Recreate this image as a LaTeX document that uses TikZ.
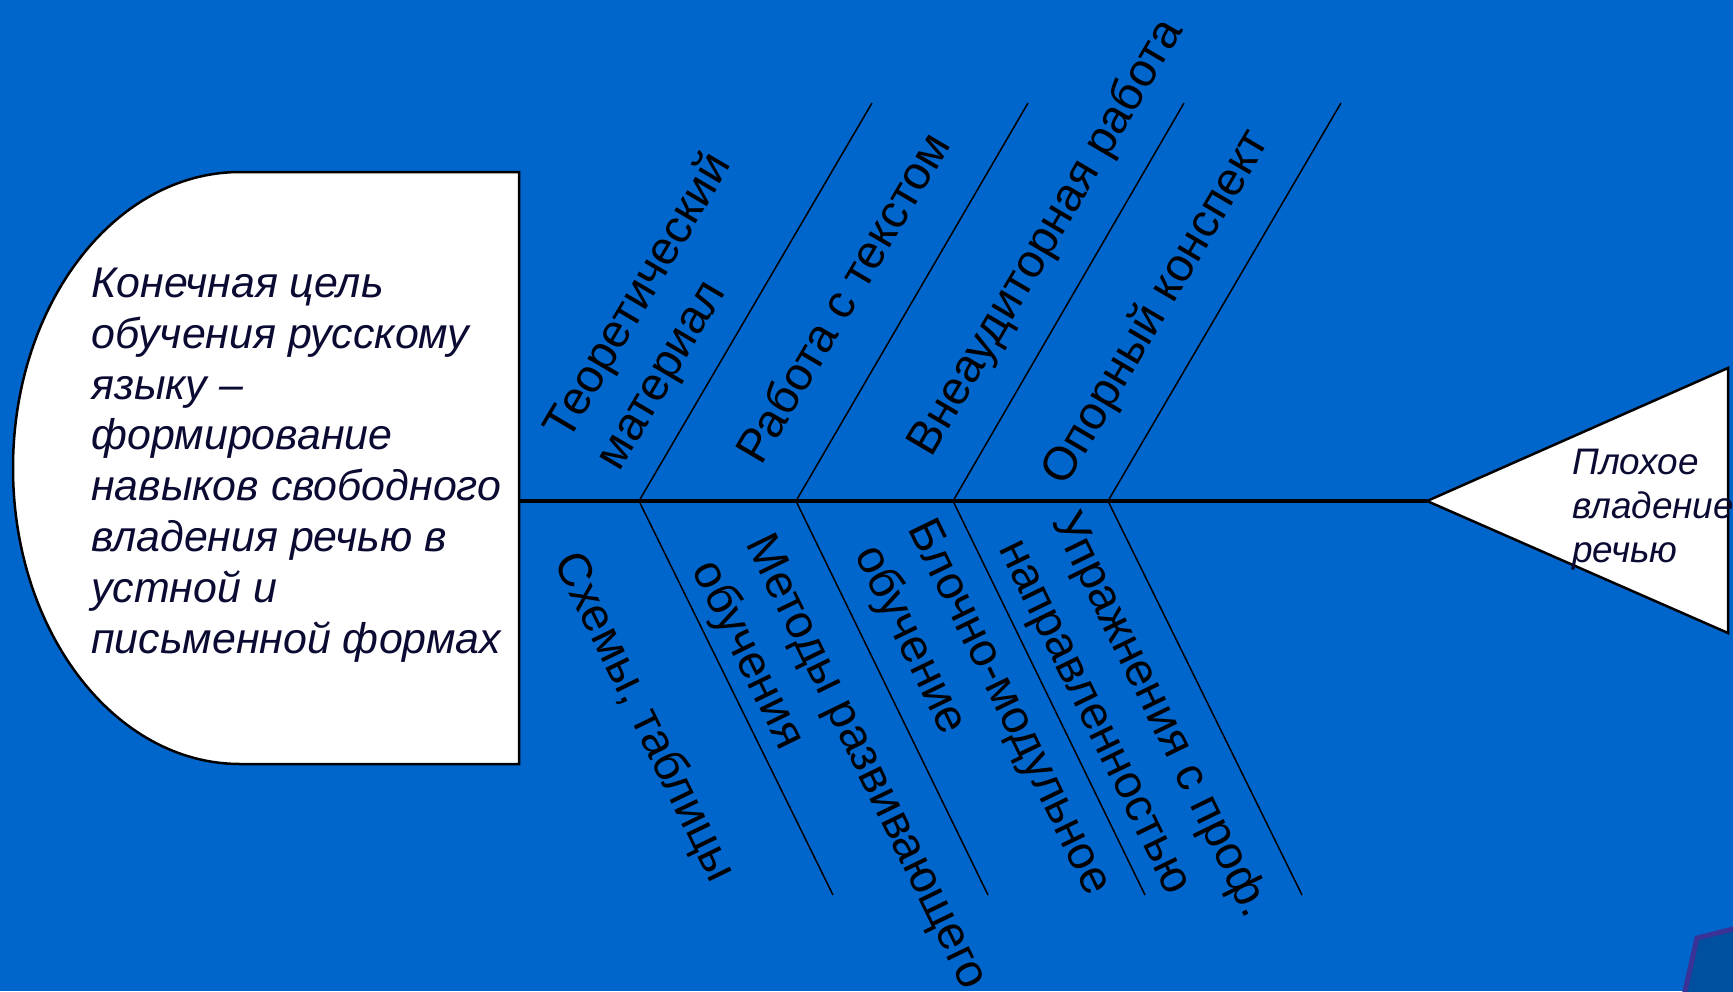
\documentclass[tikz,border=0pt]{standalone}
\usepackage{fontspec}
\setmainfont{Liberation Sans}
\usetikzlibrary{positioning}
\definecolor{slideblue}{RGB}{0,102,204}
\definecolor{inkblue}{RGB}{10,10,50}
\definecolor{cornerblue}{RGB}{0,80,160}
\definecolor{cornerrim}{RGB}{58,50,150}
\tikzset{%
  bone/.style     = {draw = black, line width = 0.3mm},
  spine/.style    = {draw = black, line width = 0.8mm},
  board/.style    = {draw = black, line width = 0.5mm, fill = white},
  uplabel/.style  = {rotate = 59.5, align = left, inner sep = 0pt,
    font = \fontsize{26.6}{34}\selectfont}, % labels above the spine
  lowlabel/.style = {rotate = -64, align = left, inner sep = 0pt,
    font = \fontsize{26.6}{34}\selectfont}, % labels below the spine
  headtext/.style = {align = left, inner sep = 0pt, text = inkblue}
}

\begin{document}
\begin{tikzpicture}[x = 0.2mm, y = -0.2mm]
\useasboundingbox (0,0) rectangle (1733,991);
\clip (0,0) rectangle (1733,991);
\fill[slideblue] (0,0) rectangle (1733,991);
%corner of the slide
\filldraw[fill = cornerblue, draw = cornerrim, line width = 1mm]
	(1683,1000) -- (1697,938) -- (1745,926) -- (1745,1000) -- cycle;
%goal and problem shapes
\draw[board] (519,172) -- (240,172)
	arc[start angle = 270, end angle = 90, x radius = 227, y radius = 296]
	-- (519,764) -- cycle;
\draw[board] (1427,501) -- (1728,368) -- (1728,633) -- cycle;
\coordinate (tail) at (519,501);
\coordinate (head) at (1427,501);
\node[headtext, anchor = west, font = \itshape\fontsize{24.4}{28.9}\selectfont]
	(goal) at (91,465) {Конечная цель\\обучения русскому\\языку –\\формирование\\навыков свободного\\владения речью в\\устной и\\письменной формах};
\node[headtext, anchor = west, font = \itshape\fontsize{21}{25}\selectfont]
	(problem) at (1572,510) {Плохое\\владение\\речью};
%spine
\draw[spine] (tail) -- (head);
%bone points
\coordinate (s1) at (639,501);
\coordinate (s2) at (796,501);
\coordinate (s3) at (953,501);
\coordinate (s4) at (1108,501);
\coordinate (t1) at (872,103);
\coordinate (t2) at (1028,103);
\coordinate (t3) at (1184,103);
\coordinate (t4) at (1341,103);
\coordinate (b1) at (833,895);
\coordinate (b2) at (988,895);
\coordinate (b3) at (1145,895);
\coordinate (b4) at (1302,895);
%bones
\draw[bone] (s1) -- (t1);
\draw[bone] (s2) -- (t2);
\draw[bone] (s3) -- (t3);
\draw[bone] (s4) -- (t4);
\draw[bone] (s1) -- (b1);
\draw[bone] (s2) -- (b2);
\draw[bone] (s3) -- (b3);
\draw[bone] (s4) -- (b4);
%bone labels
\node[uplabel] (theory) at (665,312) {Теоретический\\материал};
\node[uplabel] (textwork) at (842,297) {Работа с текстом};
\node[uplabel] (extra) at (1047,238) {Внеаудиторная работа};
\node[uplabel] (outline) at (1157,308) {Опорный конспект};
\node[lowlabel] (schemes) at (644,718) {Схемы, таблицы};
\node[lowlabel] (methods) at (838,776) {Методы развивающего\\обучения};
\node[lowlabel] (modules) at (981,721) {Блочно-модульное\\обучение};
\node[lowlabel] (exercises) at (1133,729) {Упражнения с проф.\\направленностью};
\end{tikzpicture}
\end{document}
